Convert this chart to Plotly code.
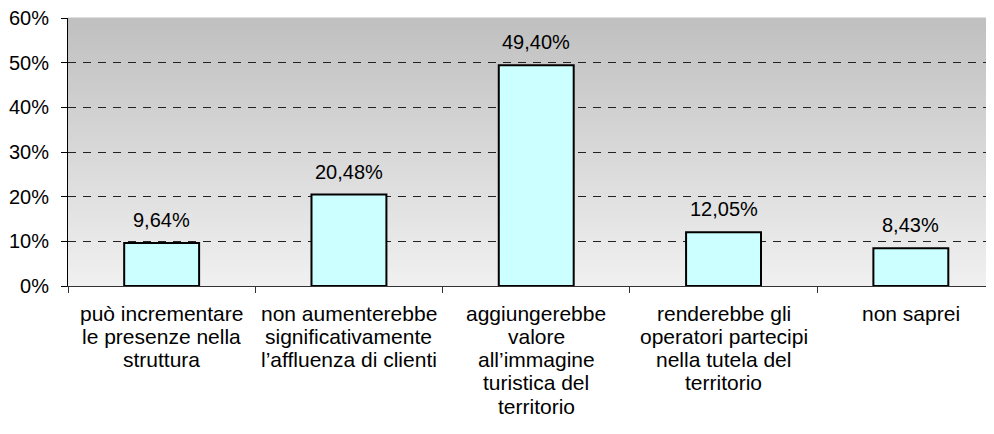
import plotly.graph_objects as go

categories = [
    "può incrementare\nle presenze nella\nstruttura",
    "non aumenterebbe\nsignificativamente\nl’affluenza di clienti",
    "aggiungerebbe\nvalore\nall’immagine\nturistica del\nterritorio",
    "renderebbe gli\noperatori partecipi\nnella tutela del\nterritorio",
    "non saprei",
]
values = [9.64, 20.48, 49.40, 12.05, 8.43]
y_ticks = [0, 0.1, 0.2, 0.3, 0.4, 0.5, 0.6]

FONT = "Liberation Sans, Arial, sans-serif"
fracs = [v / 100 for v in values]
labels = [f"{v:.2f}".replace(".", ",") + "%" for v in values]
keys = [c.replace("\n", " ") for c in categories]

fig = go.Figure()
fig.add_trace(go.Bar(
    x=keys, y=fracs, width=0.4,
    marker=dict(color="#CCFFFF", line=dict(color="#000000", width=2)),
    hoverinfo="skip",
))

# gradient background (style only)
N = 67
top = (192, 192, 192)
bot = (240, 240, 240)
shapes = []
for i in range(N):
    t = i / (N - 1)
    c = tuple(round(bot[k] + (top[k] - bot[k]) * t) for k in range(3))
    shapes.append(dict(type="rect", xref="paper", yref="paper",
                       x0=0, x1=1, y0=i / N, y1=(i + 1) / N + 0.002,
                       fillcolor="rgb(%d,%d,%d)" % c, line=dict(width=0),
                       layer="below"))

annotations = [
    dict(x=k, y=f, xref="x", yref="y", text=t, showarrow=False,
         yanchor="bottom", yshift=10, font=dict(family=FONT, size=20, color="#000"))
    for k, f, t in zip(keys, fracs, labels)
]

# category labels, one annotation per line for tighter line spacing
LINE_H = 23.3
for k, c in zip(keys, categories):
    for i, line in enumerate(c.split("\n")):
        annotations.append(dict(
            x=k, y=0, xref="x", yref="paper", text=line, showarrow=False,
            xanchor="center", yanchor="top", yshift=-14.5 - i * LINE_H,
            borderpad=0,
            font=dict(family=FONT, size=21, color="#000")))

# page body adds an 8px offset, so the figure is sized to end at the window edge
fig.update_layout(
    width=986, height=426,
    margin=dict(l=60, r=0, t=10, b=148),
    paper_bgcolor="#FFFFFF", plot_bgcolor="rgba(0,0,0,0)",
    showlegend=False,
    shapes=shapes, annotations=annotations,
    font=dict(family=FONT, size=20, color="#000"),
)
fig.update_xaxes(
    type="category", range=[-0.5, 4.444], automargin=False,
    showticklabels=False,
    tickson="boundaries", ticks="outside", ticklen=6, tickcolor="#333",
    showline=True, linecolor="#333", linewidth=1, showgrid=False,
)
fig.update_yaxes(
    range=[0, 0.6], automargin=False,
    tickmode="array", tickvals=y_ticks, tickformat=".0%",
    ticks="outside", ticklen=6, tickcolor="#000",
    showline=True, linecolor="#000", linewidth=1,
    showgrid=True, gridcolor="#222", gridwidth=1, griddash="8px,7px",
    zeroline=False,
    tickfont=dict(family=FONT, size=20, color="#000"),
    ticklabelstandoff=8, ticklabeloverflow="allow",
)

fig.write_html("out.html")
